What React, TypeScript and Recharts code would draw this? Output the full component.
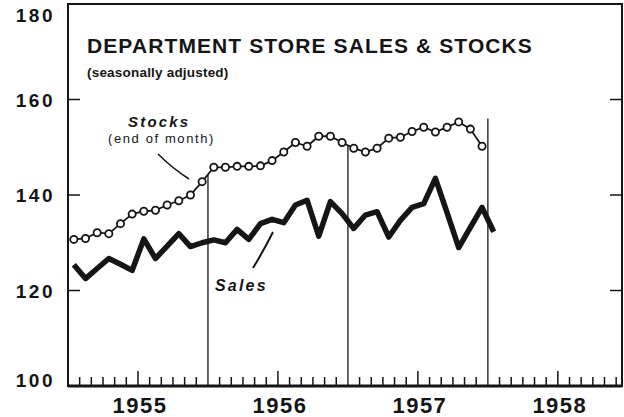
import { LineChart, Line, XAxis, YAxis, ReferenceLine, ReferenceArea } from "recharts";

// monthly index, Jan 1955 .. Jan 1958 (seasonally adjusted)
const stockValues = [
  130.7, 130.9, 132.1, 131.9, 134.0, 136.0, 136.6, 136.8, 137.9, 138.8, 140.0, 142.8,
  145.8, 145.8, 146.0, 146.0, 146.1, 147.2, 149.0, 151.0, 150.2, 152.3, 152.3, 151.0,
  149.8, 149.0, 149.8, 151.9, 152.1, 153.3, 154.2, 153.2, 154.2, 155.3, 153.8, 150.2,
];
const salesValues = [
  125.4, 122.5, 124.6, 126.7, 125.5, 124.2, 130.8, 126.7, 129.3, 131.9, 129.2, 130.0,
  130.6, 130.0, 132.8, 130.7, 134.0, 134.9, 134.2, 137.9, 138.9, 131.4, 138.6, 136.1,
  133.0, 135.8, 136.5, 131.2, 134.7, 137.4, 138.2, 143.5, 136.3, 129.0, 133.2, 137.4,
  132.3,
];
const yearLabels = ["1955", "1956", "1957", "1958"];
const yTicks = [100, 120, 140, 160, 180];
const yearEnds = [12, 24, 36];
const lastYearLineTop = 156;

const W = 624;
const H = 417;
const PLOT_LEFT = 68;
const PLOT_RIGHT = 622;
const PLOT_TOP = 4;
const PLOT_BOTTOM = 386;
const INK = "#151515";
const FONT = '"Liberation Sans", Arial, sans-serif';

const chartData = salesValues.map((s, i) => ({
  m: i + 0.5,
  sales: s,
  stocks: i < stockValues.length ? stockValues[i] : null,
}));

const monthTicks = Array.from({ length: 47 }, (_, i) => i + 1);

// top of each year divider: where it meets the stocks line (last one runs higher)
const dividerTop = (m: number) => {
  const i = m - 1;
  if (i + 1 < stockValues.length) return (stockValues[i] + stockValues[i + 1]) / 2;
  return lastYearLineTop;
};

const XTick = (props: any) => {
  const { x, payload } = props;
  const v = payload.value;
  if (v % 12 === 0) return null;
  const tall = v % 12 === 6;
  return (
    <g>
      <line x1={x} x2={x} y1={PLOT_BOTTOM - 1} y2={PLOT_BOTTOM - (tall ? 15 : 9)} stroke={INK} strokeWidth={1.5} />
      {tall && (
        <text x={x + 2} y={413} textAnchor="middle" fontFamily={FONT} fontWeight={700} fontSize={22} letterSpacing={1.5} fill={INK}>
          {yearLabels[(v - 6) / 12]}
        </text>
      )}
    </g>
  );
};

const YTick = (props: any) => {
  const { y, payload } = props;
  const v = payload.value;
  let dy = 7;
  if (v === 180) dy = 18;
  if (v === 100) dy = 1;
  const inner = v !== 100 && v !== 180;
  return (
    <g>
      <text x={55} y={y + dy} textAnchor="end" fontFamily={FONT} fontWeight={700} fontSize={19} letterSpacing={2.5} fill={INK}>
        {v}
      </text>
      {inner && (
        <>
          <line x1={PLOT_LEFT} x2={PLOT_LEFT + 12} y1={y} y2={y} stroke={INK} strokeWidth={1.5} />
          <line x1={PLOT_RIGHT - 12} x2={PLOT_RIGHT} y1={y} y2={y} stroke={INK} strokeWidth={1.5} />
        </>
      )}
    </g>
  );
};

export default function App() {
  return (
    <div style={{ position: "absolute", left: 0, top: 0, width: W, height: H, background: "#fff" }}>
      <LineChart
        width={W}
        height={H}
        data={chartData}
        margin={{ top: PLOT_TOP, right: W - PLOT_RIGHT, left: 0, bottom: 0 }}
      >
        <XAxis
          dataKey="m"
          type="number"
          domain={[0, 47.5]}
          ticks={monthTicks}
          interval={0}
          allowDataOverflow
          height={H - PLOT_BOTTOM}
          axisLine={{ stroke: INK, strokeWidth: 3 }}
          tickLine={false}
          tick={<XTick />}
        />
        <YAxis
          type="number"
          domain={[100, 180]}
          ticks={yTicks}
          interval={0}
          width={PLOT_LEFT}
          axisLine={false}
          tickLine={false}
          tick={<YTick />}
        />
        <ReferenceArea x1={0} x2={47.5} y1={100} y2={180} fill="none" stroke={INK} strokeWidth={2} ifOverflow="visible" />
        {yearEnds.map((m) => (
          <ReferenceLine
            key={m}
            segment={[{ x: m, y: 100 }, { x: m, y: dividerTop(m) }]}
            stroke={INK}
            strokeWidth={1.3}
          />
        ))}
        <Line
          dataKey="sales"
          type="linear"
          stroke={INK}
          strokeWidth={5.5}
          strokeLinejoin="round"
          dot={false}
          isAnimationActive={false}
        />
        <Line
          dataKey="stocks"
          type="linear"
          stroke={INK}
          strokeWidth={1.8}
          dot={{ r: 3.6, fill: "#fff", stroke: INK, strokeWidth: 1.8 }}
          isAnimationActive={false}
        />
      </LineChart>
      <svg width={W} height={H} style={{ position: "absolute", left: 0, top: 0, pointerEvents: "none" }}>
        <text x={87} y={53} fontFamily={FONT} fontWeight={700} fontSize={21} letterSpacing={1.1} fill={INK}>
          DEPARTMENT STORE SALES &amp; STOCKS
        </text>
        <text x={87} y={77} fontFamily={FONT} fontWeight={700} fontSize={13.5} letterSpacing={0.2} fill={INK}>
          (seasonally adjusted)
        </text>
        <text x={128} y={127} fontFamily={FONT} fontWeight={700} fontStyle="italic" fontSize={15} letterSpacing={2.2} fill={INK}>
          Stocks
        </text>
        <text x={108} y={143} fontFamily={FONT} fontSize={13} letterSpacing={1.6} fill={INK}>
          (end of month)
        </text>
        <path d="M158 154 Q172 168 189 179" fill="none" stroke={INK} strokeWidth={1.5} />
        <text x={215} y={291} fontFamily={FONT} fontWeight={700} fontStyle="italic" fontSize={16} letterSpacing={2.2} fill={INK}>
          Sales
        </text>
        <path d="M253 268 Q264 250 273 232" fill="none" stroke={INK} strokeWidth={2} />
      </svg>
    </div>
  );
}
